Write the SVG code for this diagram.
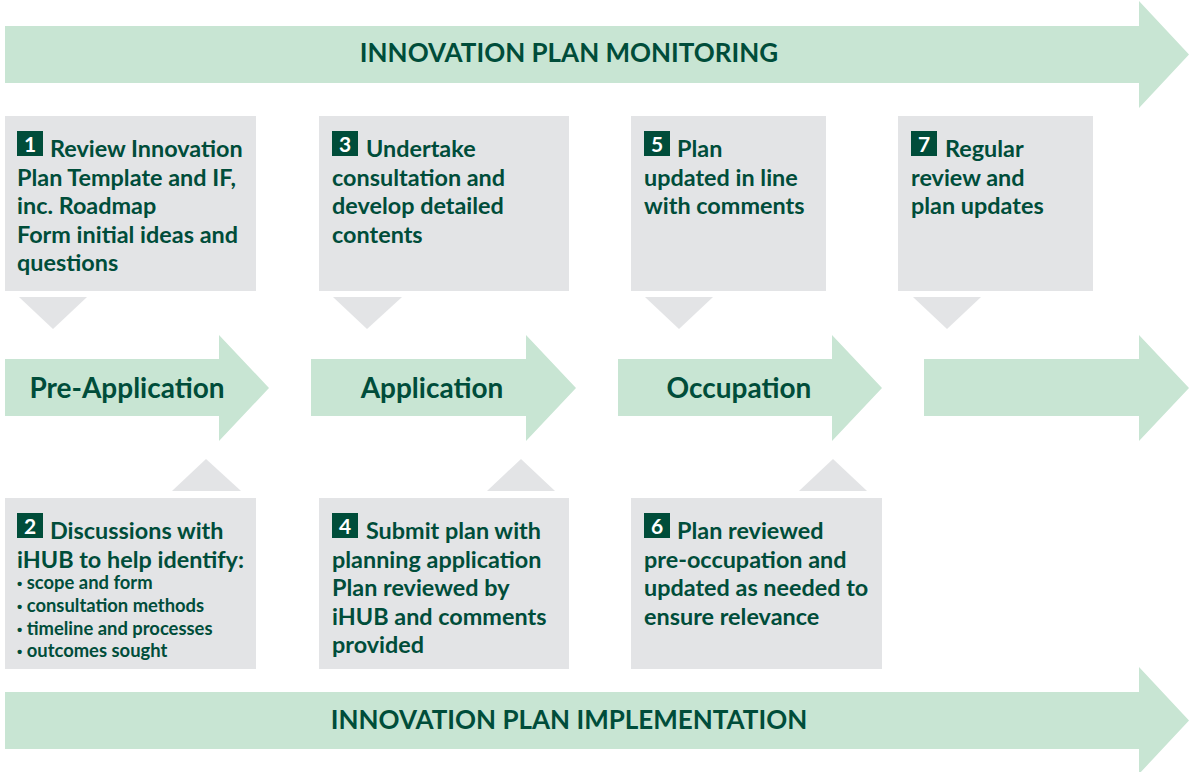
<svg xmlns="http://www.w3.org/2000/svg" width="1189" height="772" viewBox="0 0 1189 772">
<style>
.arrow{fill:#c8e5d3}
.box{fill:#e3e4e6}
.badge{fill:#004d3a}
.num{fill:#ffffff;font-family:Lato,"Liberation Sans",sans-serif;font-weight:700;font-size:21px;text-anchor:middle}
.t{fill:#004d3a;font-family:Lato,"Liberation Sans",sans-serif;font-weight:700;font-size:23.4px}
.b{fill:#004d3a;font-family:Lato,"Liberation Sans",sans-serif;font-weight:700;font-size:18.4px}
.dot{font-family:"Liberation Sans",sans-serif;font-weight:700;font-size:15px}
.stage{fill:#004d3a;font-family:Lato,"Liberation Sans",sans-serif;font-weight:700;font-size:28px;text-anchor:middle}
.title{fill:#004d3a;font-family:Lato,"Liberation Sans",sans-serif;font-weight:700;font-size:26px;text-anchor:middle}
</style>
<rect width="1189" height="772" fill="#ffffff"/>
<g id="monitoring">
<polygon class="arrow" points="5,26 1139,26 1139,1 1189,54.5 1139,108 1139,83 5,83"/>
<text class="title" x="569" y="62">INNOVATION PLAN MONITORING</text>
</g>
<g id="implementation">
<polygon class="arrow" points="5,692 1139,692 1139,667 1189,720.5 1139,774 1139,749 5,749"/>
<text class="title" x="569" y="729">INNOVATION PLAN IMPLEMENTATION</text>
</g>
<g id="connectors">
<polygon class="box" points="19,297 87,297 53,329"/>
<polygon class="box" points="333,297 402,297 367,329"/>
<polygon class="box" points="645,297 713,297 679,329"/>
<polygon class="box" points="913,297 981,297 947,329"/>
<polygon class="box" points="172,491 241,491 206,459"/>
<polygon class="box" points="487,491 555,491 521,459"/>
<polygon class="box" points="799,491 867,491 833,459"/>
</g>
<g id="pre-application">
<polygon class="arrow" points="5,359 219,359 219,335 269,388 219,441 219,416 5,416"/>
<text class="stage" x="127" y="398">Pre-Application</text>
</g>
<g id="application">
<polygon class="arrow" points="311,359 526,359 526,335 576,388 526,441 526,416 311,416"/>
<text class="stage" x="432" y="398">Application</text>
</g>
<g id="occupation">
<polygon class="arrow" points="618,359 832,359 832,335 882,388 832,441 832,416 618,416"/>
<text class="stage" x="739" y="398">Occupation</text>
</g>
<g id="final-arrow">
<polygon class="arrow" points="924,359 1139,359 1139,335 1189,388 1139,441 1139,416 924,416"/>
</g>
<g id="step1">
<rect class="box" x="5" y="116" width="251" height="175"/>
<rect class="badge" x="17" y="131" width="26" height="25"/>
<text class="num" x="30" y="151.5">1</text>
<text class="t" x="50" y="157">Review Innovation</text>
<text class="t" x="17" y="185.5">Plan Template and IF,</text>
<text class="t" x="17" y="214">inc. Roadmap</text>
<text class="t" x="17" y="242.5">Form initial ideas and</text>
<text class="t" x="17" y="271">questions</text>
</g>
<g id="step3">
<rect class="box" x="319" y="116" width="250" height="175"/>
<rect class="badge" x="332" y="131" width="26" height="25"/>
<text class="num" x="345" y="151.5">3</text>
<text class="t" x="366" y="157">Undertake</text>
<text class="t" x="332" y="185.5">consultation and</text>
<text class="t" x="332" y="214">develop detailed</text>
<text class="t" x="332" y="242.5">contents</text>
</g>
<g id="step5">
<rect class="box" x="631" y="116" width="195" height="175"/>
<rect class="badge" x="644" y="131" width="26" height="25"/>
<text class="num" x="657" y="151.5">5</text>
<text class="t" x="677" y="157">Plan</text>
<text class="t" x="644" y="185.5">updated in line</text>
<text class="t" x="644" y="214">with comments</text>
</g>
<g id="step7">
<rect class="box" x="898" y="116" width="195" height="175"/>
<rect class="badge" x="911" y="131" width="26" height="25"/>
<text class="num" x="924" y="151.5">7</text>
<text class="t" x="945" y="157">Regular</text>
<text class="t" x="911" y="185.5">review and</text>
<text class="t" x="911" y="214">plan updates</text>
</g>
<g id="step2">
<rect class="box" x="5" y="498" width="251" height="171"/>
<rect class="badge" x="17" y="513" width="26" height="25"/>
<text class="num" x="30" y="533.5">2</text>
<text class="t" x="50" y="539">Discussions with</text>
<text class="t" x="17" y="567.5">iHUB to help identify:</text>
<text class="b" x="17" y="589"><tspan class="dot">•</tspan> scope and form</text>
<text class="b" x="17" y="612"><tspan class="dot">•</tspan> consultation methods</text>
<text class="b" x="17" y="635"><tspan class="dot">•</tspan> timeline and processes</text>
<text class="b" x="17" y="657"><tspan class="dot">•</tspan> outcomes sought</text>
</g>
<g id="step4">
<rect class="box" x="319" y="498" width="250" height="171"/>
<rect class="badge" x="332" y="513" width="26" height="25"/>
<text class="num" x="345" y="533.5">4</text>
<text class="t" x="366" y="539">Submit plan with</text>
<text class="t" x="332" y="567.5">planning application</text>
<text class="t" x="332" y="596">Plan reviewed by</text>
<text class="t" x="332" y="624.5">iHUB and comments</text>
<text class="t" x="332" y="653">provided</text>
</g>
<g id="step6">
<rect class="box" x="631" y="498" width="251" height="171"/>
<rect class="badge" x="644" y="513" width="26" height="25"/>
<text class="num" x="657" y="533.5">6</text>
<text class="t" x="677" y="539">Plan reviewed</text>
<text class="t" x="644" y="567.5">pre-occupation and</text>
<text class="t" x="644" y="596">updated as needed to</text>
<text class="t" x="644" y="624.5">ensure relevance</text>
</g>
</svg>
